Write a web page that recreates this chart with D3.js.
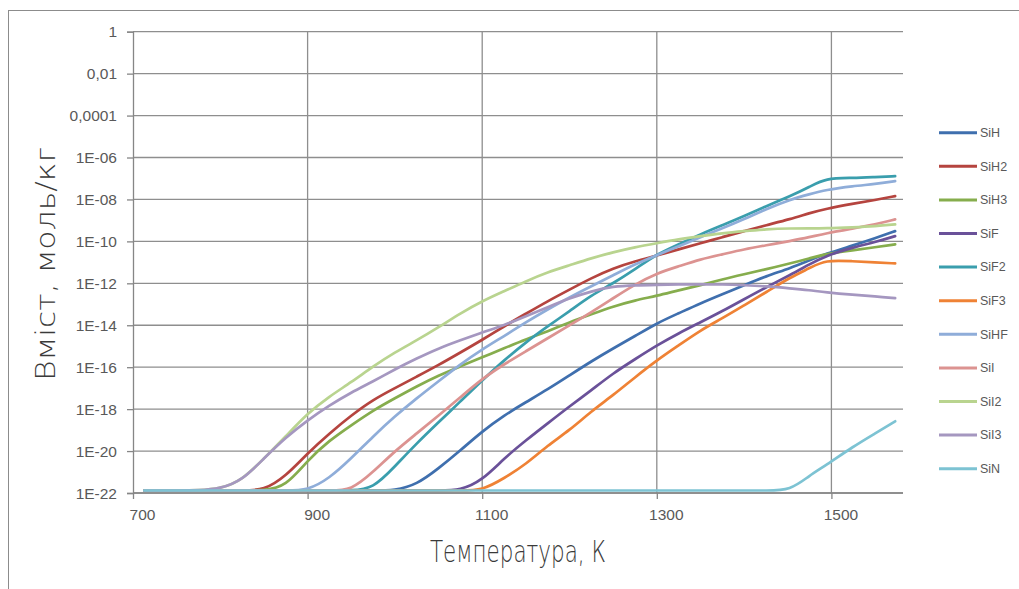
<!DOCTYPE html>
<html><head><meta charset="utf-8">
<script src="https://cdn.jsdelivr.net/npm/d3@7"></script>
<style>body{margin:0;background:#fff}svg{display:block}</style>
</head><body>
<svg id="chart" width="1019" height="589"></svg>
<script>
// Temperature, K
const temperatures = [713,725,750,775,800,825,850,875,900,925,950,975,1000,1025,1050,1075,1100,1125,1150,1175,1200,1225,1250,1275,1300,1325,1350,1375,1400,1425,1453,1475,1493,1525,1550,1573];
// Content values stored as log10(mol/kg)
const FL = -21.88;
const SiH_log10  = [FL,FL,FL,FL,FL,FL,FL,FL,FL,FL,FL,FL,FL,-21.6,-20.83,-19.97,-19.06,-18.3,-17.67,-17.06,-16.39,-15.72,-15.1,-14.52,-13.9,-13.43,-12.95,-12.52,-12.09,-11.66,-11.28,-10.9,-10.6,-10.19,-9.85,-9.51];
const SiH2_log10 = [FL,FL,FL,FL,FL,FL,FL,-21.2,-20.1,-19.16,-18.3,-17.55,-17.0,-16.45,-15.9,-15.3,-14.7,-14.05,-13.45,-12.85,-12.3,-11.75,-11.28,-10.95,-10.68,-10.38,-10.09,-9.8,-9.51,-9.23,-8.94,-8.65,-8.45,-8.2,-8.03,-7.84];
const SiH3_log10 = [FL,FL,FL,FL,FL,FL,FL,-21.7,-20.44,-19.49,-18.77,-18.06,-17.48,-16.91,-16.39,-15.96,-15.53,-15.1,-14.67,-14.29,-13.86,-13.48,-13.1,-12.81,-12.6,-12.33,-12.09,-11.81,-11.57,-11.33,-11.05,-10.81,-10.6,-10.42,-10.28,-10.14];
const SiF_log10  = [FL,FL,FL,FL,FL,FL,FL,FL,FL,FL,FL,FL,FL,FL,FL,FL,-21.4,-20.35,-19.49,-18.68,-17.87,-17.1,-16.29,-15.62,-14.96,-14.38,-13.86,-13.33,-12.76,-12.19,-11.6,-11.09,-10.7,-10.28,-10.04,-9.75];
const SiF2_log10 = [FL,FL,FL,FL,FL,FL,FL,FL,FL,FL,FL,-21.8,-20.73,-19.63,-18.63,-17.63,-16.63,-15.67,-14.81,-14.05,-13.33,-12.57,-12.0,-11.33,-10.61,-10.14,-9.66,-9.23,-8.8,-8.32,-7.84,-7.41,-6.98,-6.98,-6.93,-6.89];
const SiF3_log10 = [FL,FL,FL,FL,FL,FL,FL,FL,FL,FL,FL,FL,FL,FL,FL,FL,FL,-21.3,-20.63,-19.73,-19.01,-18.1,-17.34,-16.48,-15.67,-14.96,-14.24,-13.67,-13.05,-12.43,-11.71,-11.28,-10.88,-10.95,-11.0,-11.05];
const SiHF_log10 = [FL,FL,FL,FL,FL,FL,FL,FL,FL,-21.3,-20.35,-19.3,-18.34,-17.48,-16.67,-15.86,-15.15,-14.52,-13.86,-13.24,-12.67,-12.14,-11.62,-11.09,-10.66,-10.23,-9.8,-9.38,-8.94,-8.46,-8.0,-7.75,-7.55,-7.36,-7.27,-7.13];
const SiI_log10  = [FL,FL,FL,FL,FL,FL,FL,FL,FL,FL,FL,-21.0,-20.0,-19.16,-18.3,-17.44,-16.55,-15.86,-15.24,-14.62,-14.0,-13.38,-12.71,-12.05,-11.52,-11.19,-10.85,-10.62,-10.38,-10.19,-9.98,-9.8,-9.62,-9.38,-9.19,-8.95];
const SiI2_log10 = [FL,FL,FL,FL,-21.8,-21.4,-20.35,-19.3,-18.2,-17.39,-16.72,-15.96,-15.29,-14.72,-14.1,-13.43,-12.85,-12.38,-11.9,-11.47,-11.14,-10.8,-10.52,-10.28,-10.09,-9.9,-9.75,-9.61,-9.51,-9.42,-9.38,-9.38,-9.38,-9.33,-9.28,-9.19];
const SiI3_log10 = [FL,FL,FL,FL,-21.8,-21.4,-20.35,-19.35,-18.53,-17.82,-17.2,-16.68,-16.1,-15.58,-15.1,-14.72,-14.34,-14.0,-13.57,-13.14,-12.71,-12.38,-12.14,-12.09,-12.07,-12.05,-12.05,-12.05,-12.09,-12.14,-12.24,-12.33,-12.43,-12.55,-12.62,-12.71];
const SiN_log10  = [FL,FL,FL,FL,FL,FL,FL,FL,FL,FL,FL,FL,FL,FL,FL,FL,FL,FL,FL,FL,FL,FL,FL,FL,FL,FL,FL,FL,FL,FL,FL,-21.16,-20.7,-19.78,-19.16,-18.58];

const seriesNames = ["SiH","SiH2","SiH3","SiF","SiF2","SiF3","SiHF","SiI","SiI2","SiI3","SiN"];
const seriesLog = [SiH_log10,SiH2_log10,SiH3_log10,SiF_log10,SiF2_log10,SiF3_log10,SiHF_log10,SiI_log10,SiI2_log10,SiI3_log10,SiN_log10];
const seriesColors = ["#3f6fae","#b5443f","#86ad4d","#6a5199","#3a9ead","#ef8235","#8fadd9","#dc9391","#b9d48f","#a597c0","#7dc3d3"];

const yTickValues = [1,1e-2,1e-4,1e-6,1e-8,1e-10,1e-12,1e-14,1e-16,1e-18,1e-20,1e-22];
const yTickLabels = ["1","0,01","0,0001","1E-06","1E-08","1E-10","1E-12","1E-14","1E-16","1E-18","1E-20","1E-22"];
const xTickValues = [700,900,1100,1300,1500];
const xTitle = "Температура, К";
const yTitle = "Вміст, моль/кг";

const svg = d3.select("#chart");
const L = 133, R = 903, T = 31.7, B = 493;

const x = d3.scaleLinear().domain([700, 1582]).range([L, R]);
const y = d3.scaleLog().domain([1e-22, 1]).range([B, T]);

// outer border
svg.append("rect").attr("x",8.5).attr("y",10.5).attr("width",1030).attr("height",600)
  .attr("fill","#fff").attr("stroke","#8c8c8c").attr("stroke-width",1);

const grid = svg.append("g");
grid.selectAll("line.h").data(yTickValues).join("line")
  .attr("x1",L).attr("x2",R).attr("y1",d=>y(d)).attr("y2",d=>y(d))
  .attr("stroke","#8e8e8e").attr("stroke-width",1.3);
grid.selectAll("line.v").data(xTickValues.slice(1)).join("line")
  .attr("x1",d=>x(d)).attr("x2",d=>x(d)).attr("y1",T).attr("y2",B)
  .attr("stroke","#8e8e8e").attr("stroke-width",1.3);

// y axis
const yAxis = svg.append("g").attr("transform",`translate(${L},0)`)
  .call(d3.axisLeft(y).tickValues(yTickValues).tickFormat((d,i)=>yTickLabels[i]).tickSize(6).tickPadding(10));
yAxis.select(".domain").attr("stroke","#868686").attr("stroke-width",1.3);
yAxis.selectAll(".tick line").attr("stroke","#868686").attr("stroke-width",1.3);
yAxis.selectAll("text").attr("fill","#595959").attr("font-family","'Liberation Sans', Arial, sans-serif").attr("font-size",15.5).attr("dy","0.34em");

// x axis
const xAxis = svg.append("g").attr("transform",`translate(0,${B})`)
  .call(d3.axisBottom(x).tickValues(xTickValues).tickFormat(d3.format("d")).tickSize(6).tickPadding(10));
xAxis.select(".domain").attr("stroke","#868686").attr("stroke-width",1.3).attr("d",`M${L},0H${R}`);
xAxis.selectAll(".tick line").attr("stroke","#868686").attr("stroke-width",1.3);
xAxis.selectAll("text").attr("fill","#595959").attr("font-family","'Liberation Sans', Arial, sans-serif").attr("font-size",15.5).attr("dx",9);

// lines
const line = d3.line()
  .x((d,i)=>x(temperatures[i]))
  .y(d=>y(Math.pow(10,d)))
  .curve(d3.curveBasis);
svg.append("g").selectAll("path").data(seriesLog).join("path")
  .attr("d",d=>line(d))
  .attr("fill","none")
  .attr("stroke",(d,i)=>seriesColors[i])
  .attr("stroke-width",2.7)
  .attr("stroke-linejoin","round")
  .attr("stroke-linecap","round");

// legend
const lg = svg.append("g");
seriesNames.forEach((n,i)=>{
  const yy = 132.7 + i*33.6;
  lg.append("line").attr("x1",939).attr("x2",977).attr("y1",yy).attr("y2",yy)
    .attr("stroke",seriesColors[i]).attr("stroke-width",3);
  lg.append("text").attr("x",980).attr("y",yy).attr("dy","0.35em")
    .attr("fill","#595959").attr("font-family","'Liberation Sans', Arial, sans-serif").attr("font-size",12.5).text(n);
});

// titles
svg.append("text").attr("x",518).attr("y",562).attr("text-anchor","middle")
  .attr("font-family","'DejaVu Sans', sans-serif").attr("font-weight",200).attr("font-size",31)
  .attr("fill","#3a3a3a").attr("textLength",176).attr("lengthAdjust","spacingAndGlyphs").text(xTitle);
svg.append("text").attr("transform","translate(55,264) rotate(-90)").attr("text-anchor","middle")
  .attr("font-family","'DejaVu Sans', sans-serif").attr("font-weight",200).attr("font-size",27)
  .attr("fill","#3a3a3a").attr("textLength",234).attr("lengthAdjust","spacingAndGlyphs").text(yTitle);
</script>
</body></html>
